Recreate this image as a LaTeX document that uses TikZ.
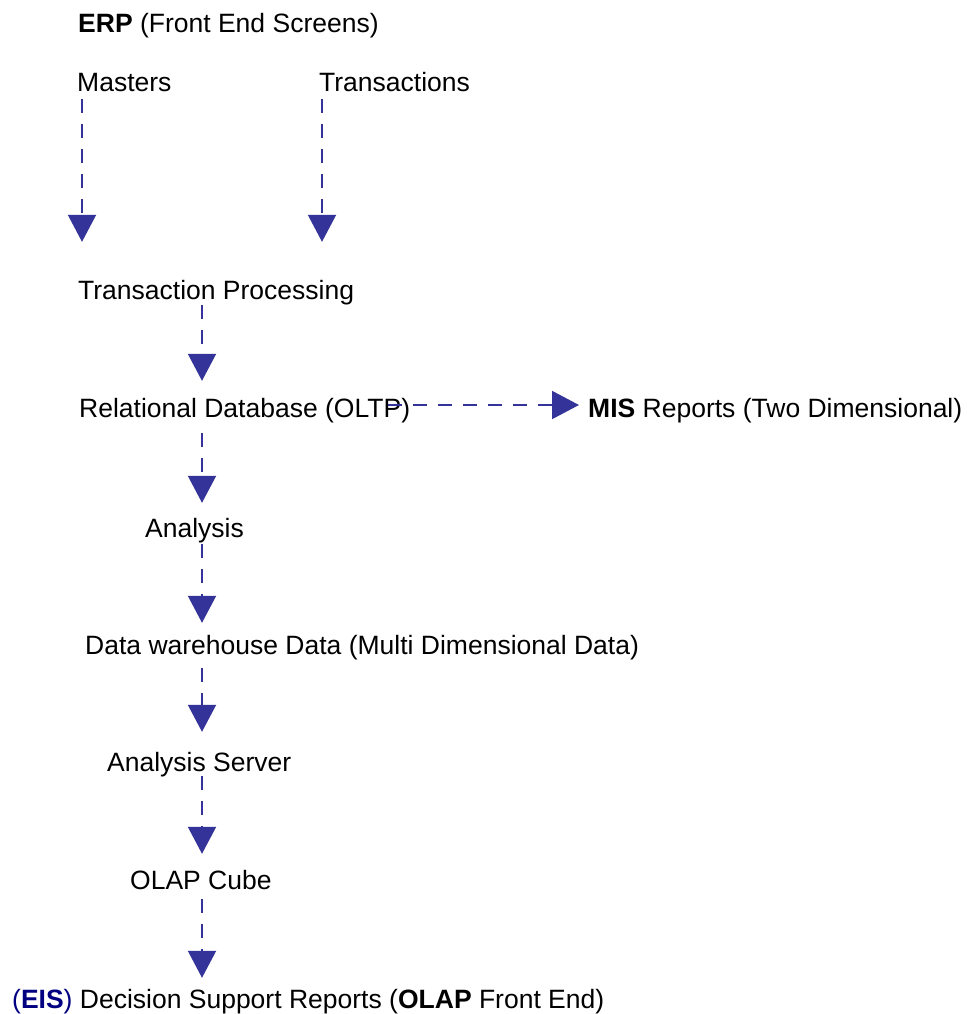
\documentclass[tikz,border=0pt]{standalone}
\usepackage{fontspec}
\setmainfont{Liberation Sans}
\usepackage{xcolor}
\usetikzlibrary{arrows.meta,positioning,calc}

\definecolor{flowblue}{HTML}{333399}
\definecolor{eisblue}{HTML}{000080}

\tikzset{
  lbl/.style={inner sep=0pt, anchor=base west, text height=19pt, text depth=5pt,
    font=\fontsize{26.5}{30}\selectfont},
  flow/.style={draw=flowblue, line width=2pt, dash pattern=on 14pt off 11pt,
    -{Triangle[width=28pt,length=27pt,fill=flowblue]}}
}

\begin{document}
\begin{tikzpicture}[x=1pt,y=-1pt]
    \useasboundingbox (0,0) rectangle (970,1014);
    \coordinate (spine) at (202,0);

    % Front end
    \node[lbl] (erp) at (78,33) {\textbf{ERP} (Front End Screens)};
    \node[lbl] (masters) at (77,92) {Masters};
    \node[lbl] (trans) at (319,92) {Transactions};

    % Processing chain
    \node[lbl] (tp) at (78,299) {Transaction Processing};
    \node[lbl] (rdb) at (79,417) {Relational Database (OLTP)};
    \node[lbl] (mis) at (588,417) {\textbf{MIS} Reports (Two Dimensional)};
    \node[lbl] (ana) at (145,537) {Analysis};
    \node[lbl] (dw) at (85,654) {Data warehouse Data (Multi Dimensional Data)};
    \node[lbl] (as) at (107,771) {Analysis Server};
    \node[lbl] (olap) at (130,889) {OLAP Cube};
    \node[lbl] (dsr) at (12,1008) {{\color{eisblue}(\textbf{EIS})} Decision Support Reports (\textbf{OLAP} Front End)};

    % Arrows
    \draw[flow, shorten <=2pt, shorten >=38pt] ([xshift=5pt]masters.south west) -- ([xshift=5pt]masters.south west |- tp.north);
    \draw[flow, shorten <=2pt, shorten >=38pt] ([xshift=3pt]trans.south west) -- ([xshift=3pt]trans.south west |- tp.north);
    \draw[flow, shorten <=1pt, shorten >=17pt] (tp.south -| spine) -- (rdb.north -| spine);
    \draw[flow, shorten <=11pt, shorten >=15pt] (rdb.south -| spine) -- (ana.north -| spine);
    \draw[flow, shorten <=2pt, shorten >=12pt] (ana.south -| spine) -- (dw.north -| spine);
    \draw[flow, shorten <=9pt, shorten >=20pt] (dw.south -| spine) -- (as.north -| spine);
    \draw[flow, shorten >=16pt] (as.south -| spine) -- (olap.north -| spine);
    \draw[flow, shorten <=5pt, shorten >=11pt] (olap.south -| spine) -- (dsr.north -| spine);
    \draw[flow] ([shift={(-22pt,12pt)}]rdb.base east) -- ([shift={(-9pt,12pt)}]mis.base west);
\end{tikzpicture}
\end{document}
